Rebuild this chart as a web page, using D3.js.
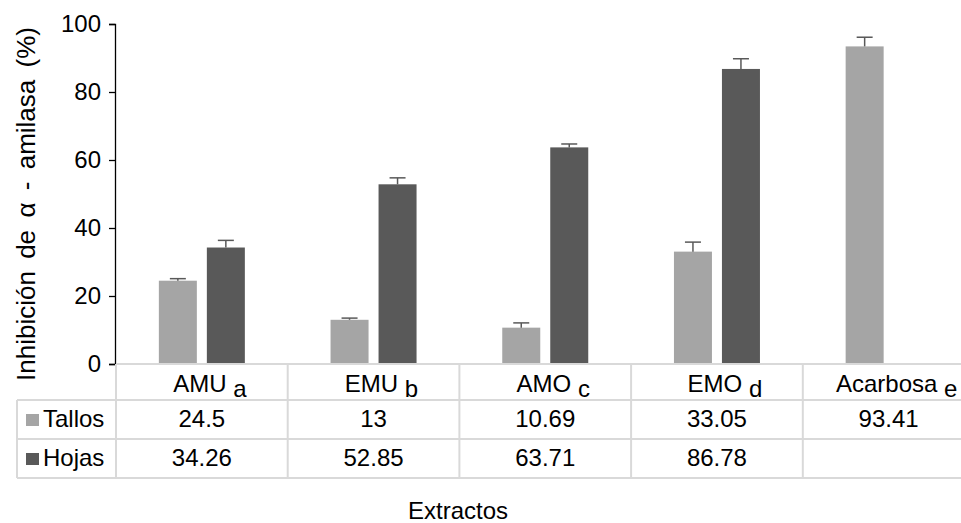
<!DOCTYPE html>
<html><head><meta charset="utf-8">
<script src="https://cdn.jsdelivr.net/npm/d3@7"></script>
<style>body{margin:0;background:#fff}svg{display:block;font-family:"Liberation Sans",Arial,sans-serif}</style>
</head><body><svg id="c" width="961" height="523"></svg>
<script>
const categories = ["AMU", "EMU", "AMO", "EMO", "Acarbosa"];
const letters = ["a", "b", "c", "d", "e"];
const series = ["Tallos", "Hojas"];
const tallos = [24.5, 13, 10.69, 33.05, 93.41];
const hojas = [34.26, 52.85, 63.71, 86.78, null];
const tallosErr = [0.6, 0.5, 1.4, 2.8, 2.7];
const hojasErr = [2.1, 1.9, 1.0, 3.0, null];
const yTicks = [0, 20, 40, 60, 80, 100];
const colors = {Tallos: "#a5a5a5", Hojas: "#595959"};

(function () {
const svg = d3.select("#c");
const FS = 24;
const left = 116, colW = 171.7, plotTop = 24, plotBottom = 364;
const x0 = d3.scaleBand().domain(categories).range([left, left + colW * categories.length]).padding(0);
const y = d3.scaleLinear().domain([0, 100]).range([plotBottom, plotTop]);

const data = categories.map((c, i) => ({c, vals: [
  {s: "Tallos", v: tallos[i], e: tallosErr[i]},
  {s: "Hojas", v: hojas[i], e: hojasErr[i]}]}));

// bars
const g = svg.append("g");
data.forEach(d => {
  const cx = x0(d.c) + x0.bandwidth() / 2;
  const x1 = d3.scaleBand().domain(series).range([cx - 43, cx + 43]).paddingInner(10 / 48).paddingOuter(0);
  d.vals.filter(v => v.v != null).forEach(v => {
    g.append("rect").attr("x", x1(v.s)).attr("width", x1.bandwidth())
      .attr("y", y(v.v)).attr("height", y(0) - y(v.v)).attr("fill", colors[v.s]);
    const ex = x1(v.s) + x1.bandwidth() / 2;
    g.append("line").attr("x1", ex).attr("x2", ex).attr("y1", y(v.v)).attr("y2", y(v.v + v.e))
      .attr("stroke", "#595959").attr("stroke-width", 1.5);
    g.append("line").attr("x1", ex - 8).attr("x2", ex + 8).attr("y1", y(v.v + v.e)).attr("y2", y(v.v + v.e))
      .attr("stroke", "#595959").attr("stroke-width", 1.5);
  });
});

// y axis
const ya = svg.append("g").attr("transform", `translate(${left - 1},0)`)
  .call(d3.axisLeft(y).tickValues(yTicks).tickSize(6).tickPadding(8));
ya.select(".domain").attr("stroke", "#000").attr("stroke-width", 1.3);
ya.selectAll(".tick line").attr("stroke", "#000").attr("stroke-width", 1.3);
ya.selectAll("text").attr("font-size", FS).attr("fill", "#000").attr("font-family", "Liberation Sans, Arial, sans-serif");

const title = svg.append("text").attr("transform", `translate(35,204) rotate(-90)`)
  .attr("text-anchor", "middle").attr("font-size", 26).attr("fill", "#000")
  .text("Inhibición de α - amilasa (%)");
const natural = title.node().getComputedTextLength();
title.attr("word-spacing", Math.max(0, (354 - natural) / 5));

// table
const grid = "#d9d9d9";
const tblLeft = 17, rows = [364, 400, 439, 478];
const right = x0.range()[1];
const tg = svg.append("g");
tg.append("line").attr("x1", left).attr("x2", right).attr("y1", rows[0]).attr("y2", rows[0]).attr("stroke", grid).attr("stroke-width", 2);
rows.slice(1).forEach(r => tg.append("line").attr("x1", tblLeft).attr("x2", right).attr("y1", r).attr("y2", r).attr("stroke", grid).attr("stroke-width", 2));
tg.append("line").attr("x1", tblLeft).attr("x2", tblLeft).attr("y1", rows[1]).attr("y2", rows[3]).attr("stroke", grid).attr("stroke-width", 2);
categories.forEach(c => tg.append("line").attr("x1", x0(c)).attr("x2", x0(c)).attr("y1", rows[0]).attr("y2", rows[3]).attr("stroke", grid).attr("stroke-width", 2));
tg.append("line").attr("x1", right).attr("x2", right).attr("y1", rows[0]).attr("y2", rows[3]).attr("stroke", grid).attr("stroke-width", 2);

// header labels
categories.forEach((c, i) => {
  const t = tg.append("text").attr("x", x0(c) + x0.bandwidth() / 2 + 8).attr("y", 392)
    .attr("text-anchor", "middle").attr("font-size", FS).attr("fill", "#000");
  t.append("tspan").text(c + " ");
  t.append("tspan").attr("dy", 5).text(letters[i]);
});

// row labels + values
[tallos, hojas].forEach((vals, r) => {
  const s = series[r];
  const yy = r === 0 ? 427 : 466;
  tg.append("rect").attr("x", 26).attr("y", yy - 13).attr("width", 13).attr("height", 12).attr("fill", colors[s]);
  tg.append("text").attr("x", 43).attr("y", yy).attr("font-size", FS).attr("fill", "#000").text(s);
  vals.forEach((v, i) => {
    if (v == null) return;
    tg.append("text").attr("x", x0(categories[i]) + x0.bandwidth() / 2).attr("y", yy)
      .attr("text-anchor", "middle").attr("font-size", FS).attr("fill", "#000").text(v);
  });
});

svg.append("text").attr("x", 458).attr("y", 519).attr("text-anchor", "middle")
  .attr("font-size", FS).attr("fill", "#000").text("Extractos");
})();
</script></body></html>
